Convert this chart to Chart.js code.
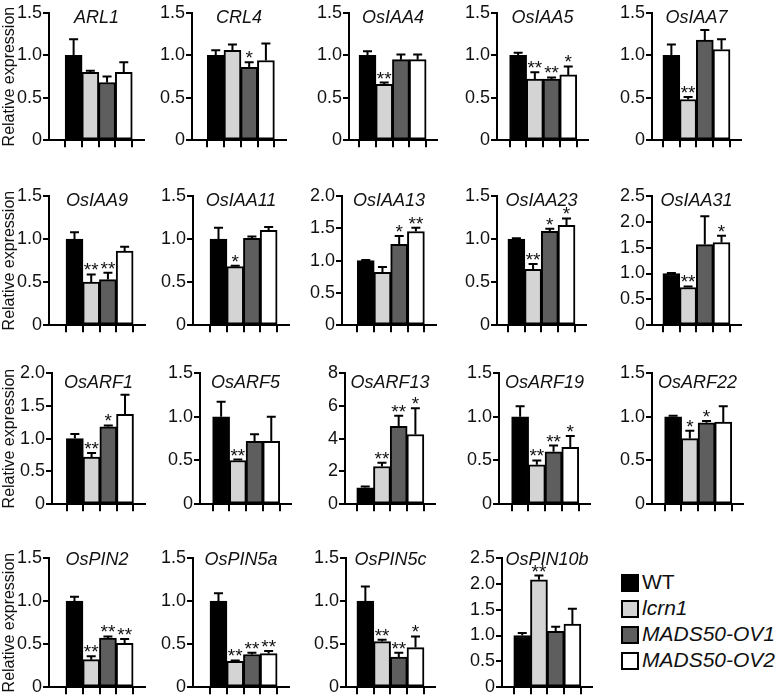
<!DOCTYPE html>
<html>
<head>
<meta charset="utf-8">
<script src="https://cdn.jsdelivr.net/npm/chart.js@4.4.1/dist/chart.umd.min.js"></script>
<style>
  body { margin: 0; background: #fff; }
  #wrap { position: relative; width: 780px; height: 698px; overflow: hidden; }
  #wrap canvas { position: absolute; }
  .key { position: absolute; left: 621px; height: 18px; font: 21px Arial, "Liberation Sans", sans-serif; color: #111; white-space: nowrap; }
  .key span { display: inline-block; width: 14px; height: 14px; border: 2px solid #000; vertical-align: top; margin-right: 3px; }
  .key b { font-weight: normal; position: relative; top: -4px; }
</style>
</head>
<body>
<div id="wrap"></div>
<script>
const FONT = 'Arial, "Liberation Sans", sans-serif';
Chart.defaults.font.family = FONT;
Chart.defaults.color = "#111";

const groups = ["WT", "lcrn1", "MADS50-OV1", "MADS50-OV2"];
const fills = ["#000000", "#d4d4d4", "#5e5e5e", "#ffffff"];

const genes = [
  "ARL1", "CRL4", "OsIAA4", "OsIAA5", "OsIAA7",
  "OsIAA9", "OsIAA11", "OsIAA13", "OsIAA23", "OsIAA31",
  "OsARF1", "OsARF5", "OsARF13", "OsARF19", "OsARF22",
  "OsPIN2", "OsPIN5a", "OsPIN5c", "OsPIN10b",
];

const yMax = [1.5, 1.5, 1.5, 1.5, 1.5, 1.5, 1.5, 2.0, 1.5, 2.5, 2.0, 1.5, 8, 1.5, 1.5, 1.5, 1.5, 1.5, 2.5];
const yStep = [0.5, 0.5, 0.5, 0.5, 0.5, 0.5, 0.5, 0.5, 0.5, 0.5, 0.5, 0.5, 2, 0.5, 0.5, 0.5, 0.5, 0.5, 0.5];

const means = [
  [1.0, 0.8, 0.68, 0.8],
  [1.0, 1.06, 0.86, 0.94],
  [1.0, 0.66, 0.95, 0.95],
  [1.0, 0.72, 0.72, 0.77],
  [1.0, 0.48, 1.18, 1.07],
  [1.0, 0.5, 0.53, 0.86],
  [1.0, 0.68, 1.01, 1.1],
  [1.0, 0.82, 1.25, 1.45],
  [1.0, 0.65, 1.09, 1.16],
  [1.0, 0.73, 1.56, 1.6],
  [1.0, 0.72, 1.18, 1.37],
  [1.0, 0.5, 0.72, 0.72],
  [1.0, 2.3, 4.75, 4.25],
  [1.0, 0.45, 0.6, 0.65],
  [1.0, 0.75, 0.93, 0.94],
  [1.0, 0.32, 0.57, 0.51],
  [1.0, 0.3, 0.38, 0.39],
  [1.0, 0.53, 0.35, 0.46],
  [1.0, 2.08, 1.08, 1.22],
];

const errors = [
  [0.19, 0.02, 0.07, 0.12],
  [0.06, 0.07, 0.06, 0.2],
  [0.05, 0.02, 0.06, 0.06],
  [0.03, 0.08, 0.02, 0.1],
  [0.13, 0.03, 0.12, 0.12],
  [0.08, 0.09, 0.08, 0.05],
  [0.13, 0.01, 0.02, 0.04],
  [0.01, 0.08, 0.13, 0.06],
  [0.01, 0.06, 0.03, 0.08],
  [0.01, 0.02, 0.55, 0.13],
  [0.07, 0.06, 0.02, 0.3],
  [0.17, 0.01, 0.08, 0.28],
  [0.08, 0.22, 0.65, 1.6],
  [0.12, 0.05, 0.07, 0.13],
  [0.01, 0.09, 0.02, 0.18],
  [0.05, 0.04, 0.02, 0.05],
  [0.09, 0.01, 0.02, 0.03],
  [0.17, 0.02, 0.05, 0.13],
  [0.05, 0.08, 0.09, 0.3],
];

const stars = [
  ["", "", "", ""],
  ["", "", "*", ""],
  ["", "**", "", ""],
  ["", "**", "**", "*"],
  ["", "**", "", ""],
  ["", "**", "**", ""],
  ["", "*", "", ""],
  ["", "", "*", "**"],
  ["", "**", "*", "*"],
  ["", "**", "", "*"],
  ["", "**", "*", ""],
  ["", "**", "", ""],
  ["", "**", "**", "*"],
  ["", "**", "**", "*"],
  ["", "*", "*", ""],
  ["", "**", "**", "**"],
  ["", "**", "**", "**"],
  ["", "**", "**", "*"],
  ["", "**", "", ""],
];

// panel placement (page px)
const axisX = [49, 192, 349, 497, 652, 49, 193, 342, 497, 652, 52, 200, 345, 499, 652, 49, 193, 346, 502];
const tick0X = [66, 208, 359, 510, 663, 67, 211, 358, 508, 663, 67, 213, 357, 512, 665, 67, 211, 357, 514];
const rowTop = [13, 196, 373, 558];
const rowBottom = [143, 328, 507, 690];
const titleDy = [5, 5, 10, 2];
const SPACING = 22.3;
const PAD_TOP = 12, PAD_RIGHT = 6, X_H = 9;

const extras = {
  id: "extras",
  afterDatasetsDraw(chart, args, opts) {
    const { ctx, chartArea } = chart;
    const xs = chart.scales.x, ys = chart.scales.y;
    ctx.save();
    ctx.strokeStyle = "#000";
    ctx.lineWidth = 2;
    ctx.fillStyle = "#111";
    opts.means.forEach((m, j) => {
      const cx = xs.getPixelForValue(j);
      const top = ys.getPixelForValue(m);
      const tip = ys.getPixelForValue(m + opts.errs[j]);
      ctx.beginPath();
      ctx.moveTo(cx, top);
      ctx.lineTo(cx, tip);
      ctx.moveTo(cx - 4.5, tip);
      ctx.lineTo(cx + 4.5, tip);
      ctx.stroke();
      if (opts.stars[j]) {
        ctx.font = "19px " + FONT;
        ctx.textAlign = "center";
        ctx.textBaseline = "alphabetic";
        ctx.fillText(opts.stars[j], cx, tip + 2);
      }
    });
    ctx.font = "italic 18px " + FONT;
    ctx.textAlign = "center";
    ctx.textBaseline = "middle";
    ctx.fillText(opts.title, (chartArea.left + chartArea.right) / 2, chartArea.top + opts.titleDy);
    ctx.restore();
  },
};

const wrap = document.getElementById("wrap");

genes.forEach((gene, i) => {
  const row = Math.floor(i / 5), col = i % 5;
  const yW = col === 0 ? axisX[i] : 44;
  const lead = tick0X[i] - axisX[i];
  const plotW = lead + 3.5 * SPACING;
  const plotH = rowBottom[row] - rowTop[row];

  const canvas = document.createElement("canvas");
  canvas.width = Math.round(yW + plotW + PAD_RIGHT);
  canvas.height = PAD_TOP + plotH + X_H;
  canvas.style.left = (axisX[i] - yW) + "px";
  canvas.style.top = (rowTop[row] - PAD_TOP) + "px";
  wrap.appendChild(canvas);

  const step = yStep[i];
  new Chart(canvas, {
    type: "bar",
    data: {
      datasets: [
        {
          label: gene,
          data: means[i].map((v, j) => ({ x: j, y: v })),
          backgroundColor: fills,
          borderColor: "#000",
          borderWidth: 2,
          borderSkipped: false,
          barThickness: 17,
        },
      ],
    },
    options: {
      responsive: false,
      animation: false,
      layout: { padding: { top: PAD_TOP, right: PAD_RIGHT, left: 0, bottom: 0 } },
      plugins: {
        legend: { display: false },
        tooltip: { enabled: false },
        extras: { means: means[i], errs: errors[i], stars: stars[i], title: gene, titleDy: titleDy[row] },
      },
      scales: {
        x: {
          type: "linear",
          min: -lead / SPACING,
          max: 3.5,
          afterBuildTicks: (s) => { s.ticks = [0, 1, 2, 3].map((v) => ({ value: v })); },
          afterFit: (s) => { s.height = X_H; },
          grid: { drawOnChartArea: false, drawTicks: true, tickLength: 7, color: "#000", lineWidth: 2 },
          border: { color: "#000", width: 2 },
          ticks: { display: false },
        },
        y: {
          min: 0,
          max: yMax[i],
          afterFit: (s) => { s.width = yW; },
          grid: { drawOnChartArea: false, drawTicks: true, tickLength: 6, color: "#000", lineWidth: 2 },
          border: { color: "#000", width: 2 },
          ticks: {
            stepSize: step,
            padding: 1,
            font: { size: 18 },
            color: "#111",
            callback: (v) => (v === 0 ? "0" : step >= 1 ? String(v) : v.toFixed(1)),
          },
          title: {
            display: col === 0,
            text: "Relative expression",
            font: { size: 16 },
            color: "#111",
            padding: 0,
          },
        },
      },
    },
    plugins: [extras],
  });
});

// legend
const keyTops = [574, 600, 626, 652];
groups.forEach((g, j) => {
  const div = document.createElement("div");
  div.className = "key";
  div.style.top = keyTops[j] + "px";
  const sw = document.createElement("span");
  sw.style.background = fills[j];
  const txt = document.createElement("b");
  txt.textContent = g;
  if (j > 0) txt.style.fontStyle = "italic";
  div.appendChild(sw);
  div.appendChild(txt);
  wrap.appendChild(div);
});
</script>
</body>
</html>
